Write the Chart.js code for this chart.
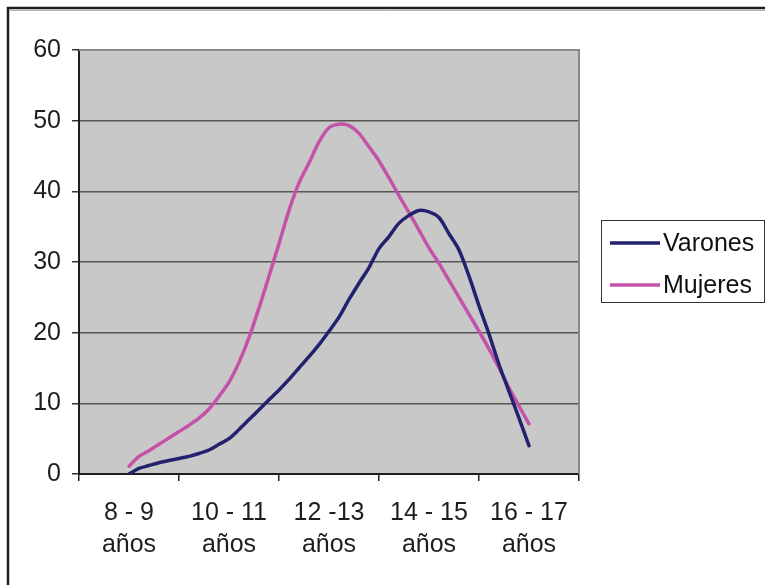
<!DOCTYPE html>
<html lang="es">
<head>
<meta charset="utf-8">
<title>Varones y Mujeres por edad</title>
<script src="https://cdn.jsdelivr.net/npm/chart.js@4.4.1/dist/chart.umd.min.js"></script>
<style>
  html, body { margin: 0; padding: 0; background: #ffffff; }
  #wrap { width: 765px; height: 585px; position: relative; }
</style>
</head>
<body>
<div id="wrap"><canvas id="chart" width="765" height="585"></canvas></div>
<script>
// Grupos de edad (eje X)
const categories = [
  ['8 - 9', 'años'],
  ['10 - 11', 'años'],
  ['12 -13', 'años'],
  ['14 - 15', 'años'],
  ['16 - 17', 'años']
];

// Edad (años) de cada punto de la curva; 8.5 = centro del grupo 8 - 9
const ages = [
  8.5, 8.7, 8.9, 9.1, 9.3, 9.5, 9.7, 9.9, 10.1, 10.3,
  10.5, 10.7, 10.9, 11.1, 11.3, 11.5, 11.7, 11.9, 12.1, 12.3,
  12.5, 12.7, 12.9, 13.1, 13.3, 13.5, 13.7, 13.9, 14.1, 14.3,
  14.5, 14.7, 14.9, 15.1, 15.3, 15.5, 15.7, 15.9, 16.1, 16.3,
  16.5
];

const varones = [
  0.0, 0.8, 1.2, 1.6, 1.9, 2.2, 2.5, 2.9, 3.4, 4.2,
  5.0, 6.3, 7.7, 9.1, 10.5, 11.9, 13.4, 15.0, 16.6, 18.3,
  20.2, 22.2, 24.7, 27.0, 29.2, 31.9, 33.6, 35.5, 36.6, 37.3,
  37.1, 36.3, 34.0, 31.7, 28.0, 23.8, 19.8, 15.5, 11.7, 7.9,
  4.0
];

const mujeres = [
  1.1, 2.5, 3.3, 4.2, 5.1, 6.0, 6.9, 7.9, 9.2, 11.0,
  13.0, 15.8, 19.3, 23.5, 28.0, 32.6, 37.3, 41.2, 44.0, 47.0,
  49.0, 49.5, 49.3, 48.2, 46.3, 44.3, 41.9, 39.4, 37.0, 34.5,
  32.0, 29.8, 27.4, 25.0, 22.6, 20.2, 17.7, 15.0, 12.2, 9.6,
  7.1
];

// Marcas del eje Y
const yTicks = [0, 10, 20, 30, 40, 50, 60];

const FONT = 'Liberation Sans, Arial, sans-serif';
const toPoints = (vals) => vals.map((v, i) => ({ x: ages[i], y: v }));

// Fondo gris del área de trazado, marco exterior y leyenda recuadrada
const decor = {
  id: 'decor',
  beforeDraw(chart) {
    const { ctx, chartArea: a } = chart;
    ctx.save();
    ctx.fillStyle = '#c8c8c8';
    ctx.fillRect(a.left, a.top, a.right - a.left, a.bottom - a.top);
    ctx.restore();
  },
  afterDraw(chart) {
    const { ctx, chartArea: a } = chart;
    ctx.save();
    // borde del área de trazado (arriba y derecha)
    ctx.strokeStyle = '#8a8a8a';
    ctx.lineWidth = 2;
    ctx.beginPath();
    ctx.moveTo(a.left, a.top);
    ctx.lineTo(a.right, a.top);
    ctx.lineTo(a.right, a.bottom);
    ctx.stroke();

    // marco exterior del gráfico
    ctx.strokeStyle = '#1e1e1e';
    ctx.lineWidth = 2.5;
    ctx.beginPath();
    ctx.moveTo(8, 585);
    ctx.lineTo(8, 8);
    ctx.lineTo(765, 8);
    ctx.stroke();
    ctx.strokeStyle = '#b0b0b0';
    ctx.lineWidth = 1;
    ctx.beginPath();
    ctx.moveTo(10, 10.5);
    ctx.lineTo(765, 10.5);
    ctx.stroke();

    // leyenda
    const bx = 601.5, by = 220.5, bw = 163, bh = 82;
    ctx.fillStyle = '#ffffff';
    ctx.fillRect(bx, by, bw, bh);
    ctx.strokeStyle = '#333333';
    ctx.lineWidth = 1;
    ctx.strokeRect(bx, by, bw, bh);
    ctx.font = '25px ' + FONT;
    ctx.textBaseline = 'middle';
    ctx.textAlign = 'left';
    chart.data.datasets.forEach((ds, i) => {
      const y = 243 + i * 42;
      ctx.strokeStyle = ds.borderColor;
      ctx.lineWidth = 3.5;
      ctx.lineCap = 'butt';
      ctx.beginPath();
      ctx.moveTo(610, y);
      ctx.lineTo(660, y);
      ctx.stroke();
      ctx.fillStyle = '#111111';
      ctx.fillText(ds.label, 663, y + 1);
    });
    ctx.restore();
  }
};

new Chart(document.getElementById('chart'), {
  type: 'line',
  data: {
    labels: categories,
    datasets: [
      {
        label: 'Varones',
        data: toPoints(varones),
        xAxisID: 'xv',
        borderColor: '#22226e',
        borderWidth: 3.5,
        pointRadius: 0,
        tension: 0.3,
        borderCapStyle: 'round',
        borderJoinStyle: 'round',
        fill: false
      },
      {
        label: 'Mujeres',
        data: toPoints(mujeres),
        xAxisID: 'xv',
        borderColor: '#c452a8',
        borderWidth: 3.5,
        pointRadius: 0,
        tension: 0.3,
        borderCapStyle: 'round',
        borderJoinStyle: 'round',
        fill: false
      }
    ]
  },
  options: {
    responsive: false,
    animation: false,
    devicePixelRatio: 1,
    layout: { padding: { top: 50, right: 186, left: 0, bottom: 0 } },
    plugins: {
      legend: { display: false },
      tooltip: { enabled: false },
      title: { display: false }
    },
    scales: {
      x: {
        type: 'category',
        position: 'bottom',
        offset: true,
        grid: {
          offset: true,
          drawOnChartArea: false,
          drawTicks: true,
          tickLength: 7,
          color: '#1e1e1e',
          lineWidth: 1.5
        },
        border: { display: true, color: '#1e1e1e', width: 2 },
        ticks: {
          color: '#1e1e1e',
          font: { family: FONT, size: 25, lineHeight: 1.28 },
          padding: 16,
          maxRotation: 0,
          autoSkip: false
        },
        afterFit(scale) { scale.height = 585 - 474; }
      },
      xv: {
        type: 'linear',
        min: 7.5,
        max: 17.5,
        display: false
      },
      y: {
        min: 0,
        max: 60,
        afterBuildTicks(scale) { scale.ticks = yTicks.map(v => ({ value: v })); },
        grid: {
          color: (c) => (c.tick && c.tick.value === 60 ? '#8a8a8a' : '#555555'),
          lineWidth: 1.5,
          tickLength: 7,
          tickColor: '#333333'
        },
        border: { display: true, color: '#1e1e1e', width: 2 },
        ticks: {
          color: '#1e1e1e',
          font: { family: FONT, size: 25 },
          padding: 11
        },
        afterFit(scale) { scale.width = 79; }
      }
    }
  },
  plugins: [decor]
});
</script>
</body>
</html>
